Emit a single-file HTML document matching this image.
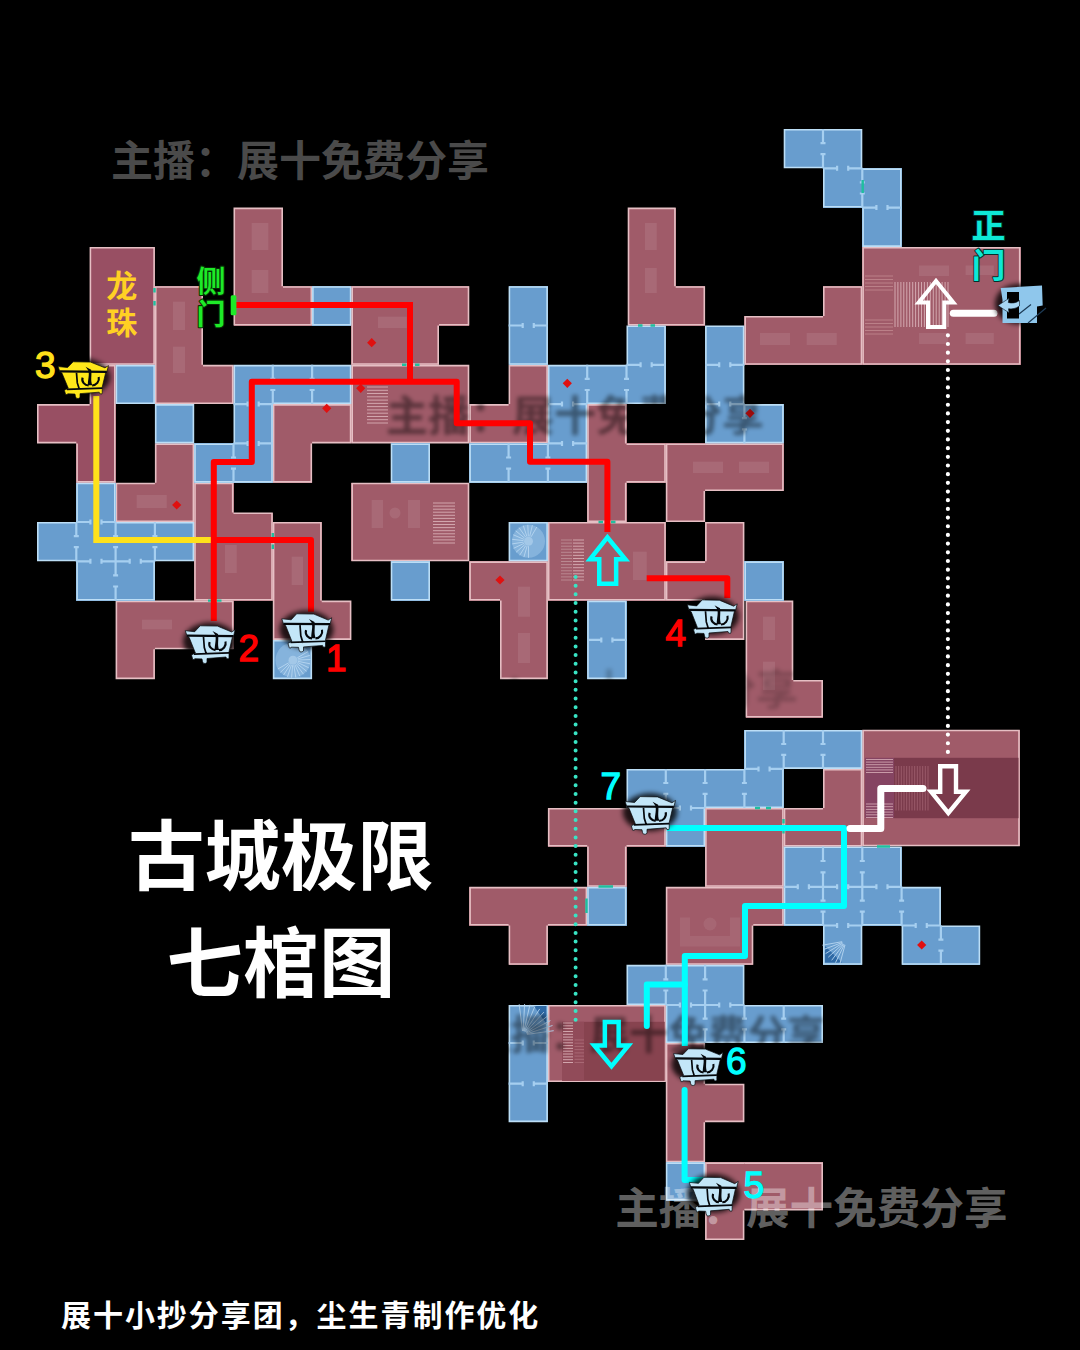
<!DOCTYPE html>
<html lang="zh"><head><meta charset="utf-8"><title>古城极限七棺图</title>
<style>html,body{margin:0;padding:0;background:#000;}body{width:1080px;height:1350px;overflow:hidden;}svg{display:block;}text{font-family:"Liberation Sans","Noto Sans CJK SC",sans-serif;font-weight:bold;}</style></head><body>
<svg width="1080" height="1350" viewBox="0 0 1080 1350">
<defs>
<filter id="blur2" x="-20%" y="-20%" width="140%" height="140%"><feGaussianBlur stdDeviation="2.0"/></filter>
<filter id="smoke" x="-30%" y="-30%" width="160%" height="160%"><feGaussianBlur stdDeviation="2.5"/></filter>
</defs>
<rect width="1080" height="1350" fill="#000"/>
<g id="pink-rooms">
<g fill="#a05b69" shape-rendering="crispEdges"><rect x="233.50" y="207.60" width="49.50" height="78.60"/><rect x="233.50" y="286.20" width="78.60" height="39.30"/></g>
<path d="M233.5,208.4H283.0M234.3,207.6V286.2M282.2,207.6V286.2M233.5,324.7H283.0M234.3,286.2V325.5M283.0,287.0H312.1M283.0,324.7H312.1M311.3,286.2V325.5" stroke="#e6bfc4" stroke-width="1.6" fill="none"/>
<g fill="#984f63" shape-rendering="crispEdges"><rect x="89.60" y="246.90" width="65.30" height="117.90"/></g>
<path d="M89.6,247.7H154.9M89.6,364.0H154.9M90.4,246.9V364.8M154.1,246.9V364.8" stroke="#e6bfc4" stroke-width="1.6" fill="none"/>
<g fill="#a05b69" shape-rendering="crispEdges"><rect x="154.90" y="286.20" width="48.10" height="78.60"/><rect x="154.90" y="364.80" width="78.60" height="39.30"/></g>
<path d="M154.9,287.0H203.0M155.7,286.2V364.8M202.2,286.2V364.8M154.9,403.3H203.0M155.7,364.8V404.1M203.0,365.6H233.5M203.0,403.3H233.5M232.7,364.8V404.1" stroke="#e6bfc4" stroke-width="1.6" fill="none"/>
<g fill="#984f63" shape-rendering="crispEdges"><rect x="37.00" y="404.10" width="78.60" height="39.30"/><rect x="89.60" y="364.80" width="26.00" height="39.30"/><rect x="76.30" y="443.40" width="39.30" height="39.30"/></g>
<path d="M37.0,404.9H76.3M37.0,442.6H76.3M37.8,404.1V443.4M76.3,404.9H89.6M76.3,481.9H89.6M77.1,443.4V482.7M89.6,365.6H115.6M90.4,364.8V404.1M114.8,364.8V404.1M114.8,404.1V443.4M89.6,481.9H115.6M114.8,443.4V482.7" stroke="#e6bfc4" stroke-width="1.6" fill="none"/>
<g fill="#a05b69" shape-rendering="crispEdges"><rect x="154.90" y="443.40" width="39.30" height="39.30"/><rect x="115.60" y="482.70" width="78.60" height="39.30"/></g>
<path d="M115.6,483.5H154.9M115.6,521.2H154.9M116.4,482.7V522.0M154.9,444.2H194.2M155.7,443.4V482.7M193.4,443.4V482.7M154.9,521.2H194.2M193.4,482.7V522.0" stroke="#e6bfc4" stroke-width="1.6" fill="none"/>
<g fill="#a05b69" shape-rendering="crispEdges"><rect x="351.40" y="286.20" width="117.90" height="39.30"/><rect x="351.40" y="325.50" width="87.60" height="39.30"/></g>
<path d="M351.4,287.0H439.0M352.2,286.2V325.5M351.4,364.0H439.0M352.2,325.5V364.8M438.2,325.5V364.8M439.0,287.0H469.3M439.0,324.7H469.3M468.5,286.2V325.5" stroke="#e6bfc4" stroke-width="1.6" fill="none"/>
<g fill="#a05b69" shape-rendering="crispEdges"><rect x="351.40" y="364.80" width="117.90" height="78.60"/></g>
<path d="M351.4,365.6H469.3M351.4,442.6H469.3M352.2,364.8V443.4M468.5,364.8V443.4" stroke="#e6bfc4" stroke-width="1.6" fill="none"/>
<g fill="#a05b69" shape-rendering="crispEdges"><rect x="469.30" y="404.10" width="78.60" height="39.30"/><rect x="508.60" y="364.80" width="39.30" height="39.30"/></g>
<path d="M469.3,404.9H508.6M469.3,442.6H508.6M470.1,404.1V443.4M508.6,365.6H547.9M509.4,364.8V404.1M547.1,364.8V404.1M508.6,442.6H547.9M547.1,404.1V443.4" stroke="#e6bfc4" stroke-width="1.6" fill="none"/>
<g fill="#a05b69" shape-rendering="crispEdges"><rect x="272.80" y="404.10" width="78.60" height="39.30"/><rect x="272.80" y="443.40" width="39.30" height="39.30"/></g>
<path d="M272.8,404.9H312.1M273.6,404.1V443.4M272.8,481.9H312.1M273.6,443.4V482.7M311.3,443.4V482.7M312.1,404.9H351.4M312.1,442.6H351.4M350.6,404.1V443.4" stroke="#e6bfc4" stroke-width="1.6" fill="none"/>
<g fill="#a05b69" shape-rendering="crispEdges"><rect x="351.40" y="482.70" width="117.90" height="78.60"/></g>
<path d="M351.4,483.5H469.3M351.4,560.5H469.3M352.2,482.7V561.3M468.5,482.7V561.3" stroke="#e6bfc4" stroke-width="1.6" fill="none"/>
<g fill="#a05b69" shape-rendering="crispEdges"><rect x="194.20" y="482.70" width="39.30" height="117.90"/><rect x="233.50" y="512.50" width="39.30" height="88.10"/></g>
<path d="M194.2,483.5H233.5M195.0,482.7V512.5M232.7,482.7V512.5M194.2,599.8H233.5M195.0,512.5V600.6M233.5,513.3H272.8M233.5,599.8H272.8M272.0,512.5V600.6" stroke="#e6bfc4" stroke-width="1.6" fill="none"/>
<g fill="#a05b69" shape-rendering="crispEdges"><rect x="272.80" y="522.00" width="48.90" height="117.90"/><rect x="321.70" y="600.60" width="29.70" height="39.30"/></g>
<path d="M272.8,522.8H321.7M273.6,522.0V600.6M320.9,522.0V600.6M272.8,639.1H321.7M273.6,600.6V639.9M321.7,601.4H351.4M321.7,639.1H351.4M350.6,600.6V639.9" stroke="#e6bfc4" stroke-width="1.6" fill="none"/>
<g fill="#a05b69" shape-rendering="crispEdges"><rect x="115.60" y="600.60" width="117.90" height="48.70"/><rect x="115.60" y="639.90" width="39.30" height="39.30"/></g>
<path d="M115.6,601.4H154.9M116.4,600.6V639.9M116.4,639.9V649.3M115.6,678.4H154.9M116.4,649.3V679.2M154.1,649.3V679.2M154.9,601.4H233.5M232.7,600.6V639.9M154.9,648.5H233.5M232.7,639.9V649.3" stroke="#e6bfc4" stroke-width="1.6" fill="none"/>
<g fill="#a05b69" shape-rendering="crispEdges"><rect x="627.70" y="207.60" width="48.00" height="117.90"/><rect x="627.70" y="286.20" width="77.40" height="39.30"/></g>
<path d="M627.7,208.4H675.7M628.5,207.6V286.2M674.9,207.6V286.2M627.7,324.7H675.7M628.5,286.2V325.5M675.7,287.0H705.1M675.7,324.7H705.1M704.3,286.2V325.5" stroke="#e6bfc4" stroke-width="1.6" fill="none"/>
<g fill="#a05b69" shape-rendering="crispEdges"><rect x="587.20" y="404.10" width="39.30" height="117.90"/><rect x="587.20" y="443.40" width="78.60" height="39.30"/></g>
<path d="M587.2,404.9H626.5M588.0,404.1V443.4M625.7,404.1V443.4M588.0,443.4V482.7M587.2,521.2H626.5M588.0,482.7V522.0M625.7,482.7V522.0M626.5,444.2H665.8M626.5,481.9H665.8M665.0,443.4V482.7" stroke="#e6bfc4" stroke-width="1.6" fill="none"/>
<g fill="#a05b69" shape-rendering="crispEdges"><rect x="665.80" y="443.40" width="117.90" height="47.60"/><rect x="665.80" y="491.00" width="39.30" height="31.00"/></g>
<path d="M665.8,444.2H705.1M666.6,443.4V491.0M665.8,521.2H705.1M666.6,491.0V522.0M704.3,491.0V522.0M705.1,444.2H783.7M705.1,490.2H783.7M782.9,443.4V491.0" stroke="#e6bfc4" stroke-width="1.6" fill="none"/>
<g fill="#a05b69" shape-rendering="crispEdges"><rect x="547.90" y="522.00" width="117.90" height="78.60"/></g>
<path d="M547.9,522.8H665.8M547.9,599.8H665.8M548.7,522.0V600.6M665.0,522.0V600.6" stroke="#e6bfc4" stroke-width="1.6" fill="none"/>
<g fill="#a05b69" shape-rendering="crispEdges"><rect x="469.30" y="561.30" width="78.60" height="39.30"/><rect x="500.00" y="600.60" width="47.90" height="78.60"/></g>
<path d="M469.3,562.1H500.0M469.3,599.8H500.0M470.1,561.3V600.6M500.0,562.1H547.9M547.1,561.3V600.6M500.0,678.4H547.9M500.8,600.6V679.2M547.1,600.6V679.2" stroke="#e6bfc4" stroke-width="1.6" fill="none"/>
<g fill="#a05b69" shape-rendering="crispEdges"><rect x="705.10" y="522.00" width="39.30" height="117.90"/><rect x="665.80" y="561.30" width="39.30" height="39.30"/></g>
<path d="M665.8,562.1H705.1M665.8,599.8H705.1M666.6,561.3V600.6M705.1,522.8H744.4M705.9,522.0V561.3M743.6,522.0V561.3M743.6,561.3V600.6M705.1,639.1H744.4M705.9,600.6V639.9M743.6,600.6V639.9" stroke="#e6bfc4" stroke-width="1.6" fill="none"/>
<g fill="#a05b69" shape-rendering="crispEdges"><rect x="745.60" y="600.60" width="47.70" height="116.90"/><rect x="793.00" y="680.00" width="30.00" height="37.50"/></g>
<path d="M745.6,601.4H793.0M746.4,600.6V680.0M745.6,716.7H793.0M746.4,680.0V717.5M793.0,601.4H793.3M792.5,600.6V680.0M793.0,716.7H793.3M793.3,680.8H823.0M793.3,716.7H823.0M822.2,680.0V717.5" stroke="#e6bfc4" stroke-width="1.6" fill="none"/>
<g fill="#a05b69" shape-rendering="crispEdges"><rect x="744.40" y="316.00" width="117.90" height="48.80"/><rect x="823.00" y="286.20" width="39.30" height="78.60"/></g>
<path d="M744.4,316.8H823.0M744.4,364.0H823.0M745.2,316.0V364.8M823.0,287.0H862.3M823.8,286.2V316.0M861.5,286.2V316.0M823.0,364.0H862.3M861.5,316.0V364.8" stroke="#e6bfc4" stroke-width="1.6" fill="none"/>
<g fill="#a05b69" shape-rendering="crispEdges"><rect x="862.30" y="246.90" width="158.20" height="117.90"/></g>
<path d="M862.3,247.7H1020.5M862.3,364.0H1020.5M863.1,246.9V364.8M1019.7,246.9V364.8" stroke="#e6bfc4" stroke-width="1.6" fill="none"/>
<g fill="#a05b69" shape-rendering="crispEdges"><rect x="862.30" y="729.70" width="157.50" height="116.60"/></g>
<path d="M862.3,730.5H1019.8M862.3,845.5H1019.8M863.1,729.7V846.3M1019.0,729.7V846.3" stroke="#e6bfc4" stroke-width="1.6" fill="none"/>
<g fill="#a05b69" shape-rendering="crispEdges"><rect x="823.00" y="768.90" width="39.30" height="39.10"/><rect x="783.70" y="808.00" width="78.60" height="38.50"/></g>
<path d="M783.7,808.8H823.0M783.7,845.7H823.0M784.5,808.0V846.5M823.0,769.7H862.3M823.8,768.9V808.0M861.5,768.9V808.0M823.0,845.7H862.3M861.5,808.0V846.5" stroke="#e6bfc4" stroke-width="1.6" fill="none"/>
<g fill="#a05b69" shape-rendering="crispEdges"><rect x="547.90" y="808.00" width="117.90" height="38.50"/><rect x="587.20" y="846.50" width="39.30" height="40.30"/></g>
<path d="M547.9,808.8H587.2M547.9,845.7H587.2M548.7,808.0V846.5M587.2,808.8H626.5M587.2,886.0H626.5M588.0,846.5V886.8M625.7,846.5V886.8M626.5,808.8H665.8M626.5,845.7H665.8M665.0,808.0V846.5" stroke="#e6bfc4" stroke-width="1.6" fill="none"/>
<g fill="#a05b69" shape-rendering="crispEdges"><rect x="705.10" y="808.00" width="78.60" height="78.80"/></g>
<path d="M705.1,808.8H783.7M705.1,886.0H783.7M705.9,808.0V886.8M782.9,808.0V886.8" stroke="#e6bfc4" stroke-width="1.6" fill="none"/>
<g fill="#a05b69" shape-rendering="crispEdges"><rect x="665.80" y="886.80" width="117.90" height="38.70"/><rect x="665.80" y="925.50" width="87.50" height="39.30"/></g>
<path d="M665.8,887.6H753.3M666.6,886.8V925.5M665.8,964.0H753.3M666.6,925.5V964.8M752.5,925.5V964.8M753.3,887.6H783.7M753.3,924.7H783.7M782.9,886.8V925.5" stroke="#e6bfc4" stroke-width="1.6" fill="none"/>
<g fill="#a05b69" shape-rendering="crispEdges"><rect x="469.30" y="886.80" width="117.90" height="38.70"/><rect x="508.60" y="925.50" width="39.30" height="39.30"/></g>
<path d="M469.3,887.6H508.6M469.3,924.7H508.6M470.1,886.8V925.5M508.6,887.6H547.9M508.6,964.0H547.9M509.4,925.5V964.8M547.1,925.5V964.8M547.9,887.6H587.2M547.9,924.7H587.2M586.4,886.8V925.5" stroke="#e6bfc4" stroke-width="1.6" fill="none"/>
<g fill="#a05b69" shape-rendering="crispEdges"><rect x="547.90" y="1005.00" width="117.90" height="77.00"/></g>
<path d="M547.9,1005.8H665.8M547.9,1081.2H665.8M548.7,1005.0V1082.0M665.0,1005.0V1082.0" stroke="#e6bfc4" stroke-width="1.6" fill="none"/>
<g fill="#a05b69" shape-rendering="crispEdges"><rect x="665.80" y="1043.00" width="39.30" height="119.30"/><rect x="705.10" y="1083.70" width="39.30" height="38.50"/></g>
<path d="M665.8,1043.8H705.1M666.6,1043.0V1083.7M704.3,1043.0V1083.7M666.6,1083.7V1122.2M665.8,1161.5H705.1M666.6,1122.2V1162.3M704.3,1122.2V1162.3M705.1,1084.5H744.4M705.1,1121.4H744.4M743.6,1083.7V1122.2" stroke="#e6bfc4" stroke-width="1.6" fill="none"/>
<g fill="#a05b69" shape-rendering="crispEdges"><rect x="705.10" y="1162.30" width="117.90" height="48.10"/><rect x="705.10" y="1200.50" width="39.30" height="39.50"/></g>
<path d="M705.1,1163.1H744.4M705.9,1162.3V1200.5M705.9,1200.5V1210.4M705.1,1239.2H744.4M705.9,1210.4V1240.0M743.6,1210.4V1240.0M744.4,1163.1H823.0M822.2,1162.3V1200.5M744.4,1209.6H823.0M822.2,1200.5V1210.4" stroke="#e6bfc4" stroke-width="1.6" fill="none"/>
</g>
<g id="blue-rooms">
<g fill="#689dce" shape-rendering="crispEdges"><rect x="37.00" y="522.00" width="39.30" height="39.30"/><rect x="76.30" y="482.70" width="39.30" height="39.30"/><rect x="76.30" y="522.00" width="39.30" height="39.30"/><rect x="76.30" y="561.30" width="39.30" height="39.30"/><rect x="115.60" y="364.80" width="39.30" height="39.30"/><rect x="115.60" y="522.00" width="39.30" height="39.30"/><rect x="115.60" y="561.30" width="39.30" height="39.30"/><rect x="154.90" y="404.10" width="39.30" height="39.30"/><rect x="154.90" y="522.00" width="39.30" height="39.30"/><rect x="194.20" y="443.40" width="39.30" height="39.30"/><rect x="233.50" y="364.80" width="39.30" height="39.30"/><rect x="233.50" y="404.10" width="39.30" height="39.30"/><rect x="233.50" y="443.40" width="39.30" height="39.30"/><rect x="272.80" y="364.80" width="39.30" height="39.30"/><rect x="272.80" y="639.90" width="39.30" height="39.30"/><rect x="312.10" y="286.20" width="39.30" height="39.30"/><rect x="312.10" y="364.80" width="39.30" height="39.30"/><rect x="390.70" y="443.40" width="39.30" height="39.30"/><rect x="390.70" y="561.30" width="39.30" height="39.30"/><rect x="469.30" y="443.40" width="39.30" height="39.30"/><rect x="508.60" y="286.20" width="39.30" height="39.30"/><rect x="508.60" y="325.50" width="39.30" height="39.30"/><rect x="508.60" y="443.40" width="39.30" height="39.30"/><rect x="508.60" y="522.00" width="39.30" height="39.30"/><rect x="547.90" y="364.80" width="39.30" height="39.30"/><rect x="547.90" y="404.10" width="39.30" height="39.30"/><rect x="547.90" y="443.40" width="39.30" height="39.30"/><rect x="587.20" y="364.80" width="39.30" height="39.30"/><rect x="587.20" y="600.60" width="39.30" height="39.30"/><rect x="587.20" y="639.90" width="39.30" height="39.30"/><rect x="626.50" y="325.50" width="39.30" height="39.30"/><rect x="626.50" y="364.80" width="39.30" height="39.30"/><rect x="705.10" y="325.50" width="39.30" height="39.30"/><rect x="705.10" y="364.80" width="39.30" height="39.30"/><rect x="705.10" y="404.10" width="39.30" height="39.30"/><rect x="744.40" y="404.10" width="39.30" height="39.30"/><rect x="744.40" y="561.30" width="39.30" height="39.30"/><rect x="783.70" y="129.00" width="39.30" height="39.30"/><rect x="823.00" y="129.00" width="39.30" height="39.30"/><rect x="823.00" y="168.30" width="39.30" height="39.30"/><rect x="862.30" y="168.30" width="39.30" height="39.30"/><rect x="862.30" y="207.60" width="39.30" height="39.30"/></g>
<path d="M37.0,522.8H76.3M37.0,560.5H76.3M37.8,522.0V561.3M76.3,483.5H115.6M77.1,482.7V522.0M114.8,482.7V522.0M76.3,599.8H115.6M77.1,561.3V600.6M115.6,365.6H154.9M115.6,403.3H154.9M116.4,364.8V404.1M154.1,364.8V404.1M115.6,522.8H154.9M115.6,599.8H154.9M154.1,561.3V600.6M154.9,404.9H194.2M154.9,442.6H194.2M155.7,404.1V443.4M193.4,404.1V443.4M154.9,522.8H194.2M154.9,560.5H194.2M193.4,522.0V561.3M194.2,444.2H233.5M194.2,481.9H233.5M195.0,443.4V482.7M233.5,365.6H272.8M234.3,364.8V404.1M234.3,404.1V443.4M272.0,404.1V443.4M233.5,481.9H272.8M272.0,443.4V482.7M272.8,365.6H312.1M272.8,403.3H312.1M272.8,640.7H312.1M272.8,678.4H312.1M273.6,639.9V679.2M311.3,639.9V679.2M312.1,287.0H351.4M312.1,324.7H351.4M312.9,286.2V325.5M350.6,286.2V325.5M312.1,365.6H351.4M312.1,403.3H351.4M350.6,364.8V404.1M390.7,444.2H430.0M390.7,481.9H430.0M391.5,443.4V482.7M429.2,443.4V482.7M390.7,562.1H430.0M390.7,599.8H430.0M391.5,561.3V600.6M429.2,561.3V600.6M469.3,444.2H508.6M469.3,481.9H508.6M470.1,443.4V482.7M508.6,287.0H547.9M509.4,286.2V325.5M547.1,286.2V325.5M508.6,364.0H547.9M509.4,325.5V364.8M547.1,325.5V364.8M508.6,444.2H547.9M508.6,481.9H547.9M508.6,522.8H547.9M508.6,560.5H547.9M509.4,522.0V561.3M547.1,522.0V561.3M547.9,365.6H587.2M548.7,364.8V404.1M548.7,404.1V443.4M586.4,404.1V443.4M547.9,481.9H587.2M586.4,443.4V482.7M587.2,365.6H626.5M587.2,403.3H626.5M587.2,601.4H626.5M588.0,600.6V639.9M625.7,600.6V639.9M587.2,678.4H626.5M588.0,639.9V679.2M625.7,639.9V679.2M626.5,326.3H665.8M627.3,325.5V364.8M665.0,325.5V364.8M626.5,403.3H665.8M665.0,364.8V404.1M705.1,326.3H744.4M705.9,325.5V364.8M743.6,325.5V364.8M705.9,364.8V404.1M743.6,364.8V404.1M705.1,442.6H744.4M705.9,404.1V443.4M744.4,404.9H783.7M744.4,442.6H783.7M782.9,404.1V443.4M744.4,562.1H783.7M744.4,599.8H783.7M745.2,561.3V600.6M782.9,561.3V600.6M783.7,129.8H823.0M783.7,167.5H823.0M784.5,129.0V168.3M823.0,129.8H862.3M861.5,129.0V168.3M823.0,206.8H862.3M823.8,168.3V207.6M862.3,169.1H901.6M900.8,168.3V207.6M862.3,246.1H901.6M863.1,207.6V246.9M900.8,207.6V246.9" stroke="#bcdef6" stroke-width="1.6" fill="none"/>
<path d="M76.3,522.0V536.1M76.3,547.2V561.3M73.8,536.1h5M73.8,547.2h5M76.3,522.0H90.4M101.5,522.0H115.6M90.4,519.5v5M101.5,519.5v5M115.6,522.0V536.1M115.6,547.2V561.3M113.1,536.1h5M113.1,547.2h5M76.3,561.3H90.4M101.5,561.3H115.6M90.4,558.8v5M101.5,558.8v5M115.6,561.3V575.4M115.6,586.5V600.6M113.1,575.4h5M113.1,586.5h5M154.9,522.0V536.1M154.9,547.2V561.3M152.4,536.1h5M152.4,547.2h5M115.6,561.3H129.7M140.8,561.3H154.9M129.7,558.8v5M140.8,558.8v5M233.5,443.4V457.5M233.5,468.6V482.7M231.0,457.5h5M231.0,468.6h5M272.8,364.8V378.9M272.8,390.0V404.1M270.3,378.9h5M270.3,390.0h5M233.5,404.1H247.6M258.7,404.1H272.8M247.6,401.6v5M258.7,401.6v5M233.5,443.4H247.6M258.7,443.4H272.8M247.6,440.9v5M258.7,440.9v5M312.1,364.8V378.9M312.1,390.0V404.1M309.6,378.9h5M309.6,390.0h5M508.6,443.4V457.5M508.6,468.6V482.7M506.1,457.5h5M506.1,468.6h5M508.6,325.5H522.7M533.8,325.5H547.9M522.7,323.0v5M533.8,323.0v5M547.9,443.4V457.5M547.9,468.6V482.7M545.4,457.5h5M545.4,468.6h5M587.2,364.8V378.9M587.2,390.0V404.1M584.7,378.9h5M584.7,390.0h5M547.9,404.1H562.0M573.1,404.1H587.2M562.0,401.6v5M573.1,401.6v5M547.9,443.4H562.0M573.1,443.4H587.2M562.0,440.9v5M573.1,440.9v5M626.5,364.8V378.9M626.5,390.0V404.1M624.0,378.9h5M624.0,390.0h5M587.2,639.9H601.3M612.4,639.9H626.5M601.3,637.4v5M612.4,637.4v5M626.5,364.8H640.6M651.7,364.8H665.8M640.6,362.3v5M651.7,362.3v5M705.1,364.8H719.2M730.3,364.8H744.4M719.2,362.3v5M730.3,362.3v5M705.1,404.1H719.2M730.3,404.1H744.4M719.2,401.6v5M730.3,401.6v5M744.4,404.1V418.2M744.4,429.3V443.4M741.9,418.2h5M741.9,429.3h5M823.0,129.0V143.1M823.0,154.2V168.3M820.5,143.1h5M820.5,154.2h5M823.0,168.3H837.1M848.2,168.3H862.3M837.1,165.8v5M848.2,165.8v5M862.3,168.3V182.4M862.3,193.5V207.6M859.8,182.4h5M859.8,193.5h5M862.3,207.6H876.4M887.5,207.6H901.6M876.4,205.1v5M887.5,205.1v5" stroke="#a6cff0" stroke-width="2.2" fill="none"/>
<g fill="#689dce" shape-rendering="crispEdges"><rect x="508.60" y="1005.00" width="39.30" height="38.00"/><rect x="508.60" y="1043.00" width="39.30" height="40.70"/><rect x="508.60" y="1083.70" width="39.30" height="38.50"/><rect x="587.20" y="886.80" width="39.30" height="38.70"/><rect x="626.50" y="768.90" width="39.30" height="39.10"/><rect x="626.50" y="964.80" width="39.30" height="40.20"/><rect x="665.80" y="768.90" width="39.30" height="39.10"/><rect x="665.80" y="808.00" width="39.30" height="38.50"/><rect x="665.80" y="964.80" width="39.30" height="40.20"/><rect x="665.80" y="1005.00" width="39.30" height="38.00"/><rect x="665.80" y="1162.30" width="39.30" height="38.20"/><rect x="705.10" y="768.90" width="39.30" height="39.10"/><rect x="705.10" y="964.80" width="39.30" height="40.20"/><rect x="705.10" y="1005.00" width="39.30" height="38.00"/><rect x="744.40" y="730.00" width="39.30" height="38.90"/><rect x="744.40" y="768.90" width="39.30" height="39.10"/><rect x="744.40" y="1005.00" width="39.30" height="38.00"/><rect x="783.70" y="730.00" width="39.30" height="38.90"/><rect x="783.70" y="846.50" width="39.30" height="40.30"/><rect x="783.70" y="886.80" width="39.30" height="38.70"/><rect x="783.70" y="1005.00" width="39.30" height="38.00"/><rect x="823.00" y="730.00" width="39.30" height="38.90"/><rect x="823.00" y="846.50" width="39.30" height="40.30"/><rect x="823.00" y="886.80" width="39.30" height="38.70"/><rect x="823.00" y="925.50" width="39.30" height="39.30"/><rect x="862.30" y="846.50" width="39.30" height="40.30"/><rect x="862.30" y="886.80" width="39.30" height="38.70"/><rect x="901.60" y="886.80" width="39.30" height="38.70"/><rect x="901.60" y="925.50" width="39.30" height="39.30"/><rect x="940.90" y="925.50" width="39.30" height="39.30"/></g>
<path d="M508.6,1005.8H547.9M509.4,1005.0V1043.0M547.1,1005.0V1043.0M509.4,1043.0V1083.7M547.1,1043.0V1083.7M508.6,1121.4H547.9M509.4,1083.7V1122.2M547.1,1083.7V1122.2M587.2,887.6H626.5M587.2,924.7H626.5M588.0,886.8V925.5M625.7,886.8V925.5M626.5,769.7H665.8M626.5,807.2H665.8M627.3,768.9V808.0M626.5,965.6H665.8M626.5,1004.2H665.8M627.3,964.8V1005.0M665.8,769.7H705.1M665.8,845.7H705.1M666.6,808.0V846.5M704.3,808.0V846.5M665.8,965.6H705.1M665.8,1042.2H705.1M666.6,1005.0V1043.0M665.8,1163.1H705.1M665.8,1199.7H705.1M666.6,1162.3V1200.5M704.3,1162.3V1200.5M705.1,769.7H744.4M705.1,807.2H744.4M705.1,965.6H744.4M743.6,964.8V1005.0M705.1,1042.2H744.4M744.4,730.8H783.7M745.2,730.0V768.9M744.4,807.2H783.7M782.9,768.9V808.0M744.4,1005.8H783.7M744.4,1042.2H783.7M783.7,730.8H823.0M783.7,768.1H823.0M783.7,847.3H823.0M784.5,846.5V886.8M783.7,924.7H823.0M784.5,886.8V925.5M783.7,1005.8H823.0M783.7,1042.2H823.0M822.2,1005.0V1043.0M823.0,730.8H862.3M823.0,768.1H862.3M861.5,730.0V768.9M823.0,847.3H862.3M823.0,964.0H862.3M823.8,925.5V964.8M861.5,925.5V964.8M862.3,847.3H901.6M900.8,846.5V886.8M862.3,924.7H901.6M901.6,887.6H940.9M940.1,886.8V925.5M901.6,964.0H940.9M902.4,925.5V964.8M940.9,926.3H980.2M940.9,964.0H980.2M979.4,925.5V964.8" stroke="#bcdef6" stroke-width="1.6" fill="none"/>
<path d="M508.6,1043.0H522.7M533.8,1043.0H547.9M522.7,1040.5v5M533.8,1040.5v5M508.6,1083.7H522.7M533.8,1083.7H547.9M522.7,1081.2v5M533.8,1081.2v5M665.8,768.9V783.0M665.8,793.9V808.0M663.3,783.0h5M663.3,793.9h5M665.8,964.8V979.3M665.8,990.5V1005.0M663.3,979.3h5M663.3,990.5h5M705.1,768.9V783.0M705.1,793.9V808.0M702.6,783.0h5M702.6,793.9h5M665.8,808.0H679.9M691.0,808.0H705.1M679.9,805.5v5M691.0,805.5v5M705.1,964.8V979.3M705.1,990.5V1005.0M702.6,979.3h5M702.6,990.5h5M665.8,1005.0H679.9M691.0,1005.0H705.1M679.9,1002.5v5M691.0,1002.5v5M705.1,1005.0V1018.7M705.1,1029.3V1043.0M702.6,1018.7h5M702.6,1029.3h5M744.4,768.9V783.0M744.4,793.9V808.0M741.9,783.0h5M741.9,793.9h5M705.1,1005.0H719.2M730.3,1005.0H744.4M719.2,1002.5v5M730.3,1002.5v5M744.4,1005.0V1018.7M744.4,1029.3V1043.0M741.9,1018.7h5M741.9,1029.3h5M783.7,730.0V744.0M783.7,754.9V768.9M781.2,744.0h5M781.2,754.9h5M744.4,768.9H758.5M769.6,768.9H783.7M758.5,766.4v5M769.6,766.4v5M783.7,1005.0V1018.7M783.7,1029.3V1043.0M781.2,1018.7h5M781.2,1029.3h5M823.0,730.0V744.0M823.0,754.9V768.9M820.5,744.0h5M820.5,754.9h5M823.0,846.5V861.0M823.0,872.3V886.8M820.5,861.0h5M820.5,872.3h5M783.7,886.8H797.8M808.9,886.8H823.0M797.8,884.3v5M808.9,884.3v5M823.0,886.8V900.7M823.0,911.6V925.5M820.5,900.7h5M820.5,911.6h5M862.3,846.5V861.0M862.3,872.3V886.8M859.8,861.0h5M859.8,872.3h5M823.0,886.8H837.1M848.2,886.8H862.3M837.1,884.3v5M848.2,884.3v5M862.3,886.8V900.7M862.3,911.6V925.5M859.8,900.7h5M859.8,911.6h5M823.0,925.5H837.1M848.2,925.5H862.3M837.1,923.0v5M848.2,923.0v5M862.3,886.8H876.4M887.5,886.8H901.6M876.4,884.3v5M887.5,884.3v5M901.6,886.8V900.7M901.6,911.6V925.5M899.1,900.7h5M899.1,911.6h5M901.6,925.5H915.7M926.8,925.5H940.9M915.7,923.0v5M926.8,923.0v5M940.9,925.5V939.6M940.9,950.7V964.8M938.4,939.6h5M938.4,950.7h5" stroke="#a6cff0" stroke-width="2.2" fill="none"/>
</g>
<rect x="894" y="757.8" width="124.5" height="60.4" fill="#7a3a4b"/>
<rect x="865" y="757.8" width="29" height="60.4" fill="#854462"/>
<rect x="562" y="1021.8" width="102.7" height="59" fill="#87434f"/><rect x="562" y="1021.8" width="22" height="59" fill="#914b59"/>
<path d="M367.0,387.0H388.0M367.0,390.3H388.0M367.0,393.5H388.0M367.0,396.8H388.0M367.0,400.1H388.0M367.0,403.4H388.0M367.0,406.6H388.0M367.0,409.9H388.0M367.0,413.2H388.0M367.0,416.5H388.0M367.0,419.7H388.0M367.0,423.0H388.0" stroke="#d2a6ad" stroke-width="1" fill="none"/>
<path d="M433.0,503.0H455.0M433.0,506.1H455.0M433.0,509.2H455.0M433.0,512.2H455.0M433.0,515.3H455.0M433.0,518.4H455.0M433.0,521.5H455.0M433.0,524.5H455.0M433.0,527.6H455.0M433.0,530.7H455.0M433.0,533.8H455.0M433.0,536.8H455.0M433.0,539.9H455.0M433.0,543.0H455.0" stroke="#d2a6ad" stroke-width="1" fill="none"/>
<path d="M573.0,540.0H584.0M573.0,543.1H584.0M573.0,546.2H584.0M573.0,549.2H584.0M573.0,552.3H584.0M573.0,555.4H584.0M573.0,558.5H584.0M573.0,561.5H584.0M573.0,564.6H584.0M573.0,567.7H584.0M573.0,570.8H584.0M573.0,573.8H584.0M573.0,576.9H584.0M573.0,580.0H584.0" stroke="#d2a6ad" stroke-width="1" fill="none"/>
<path d="M561.0,540.0H572.0M561.0,543.1H572.0M561.0,546.2H572.0M561.0,549.2H572.0M561.0,552.3H572.0M561.0,555.4H572.0M561.0,558.5H572.0M561.0,561.5H572.0M561.0,564.6H572.0M561.0,567.7H572.0M561.0,570.8H572.0M561.0,573.8H572.0M561.0,576.9H572.0M561.0,580.0H572.0" stroke="#b98890" stroke-width="1" fill="none"/>
<path d="M895.0,282.0V327.0M897.9,282.0V327.0M900.9,282.0V327.0M903.8,282.0V327.0M906.8,282.0V327.0M909.7,282.0V327.0M912.7,282.0V327.0M915.6,282.0V327.0M918.6,282.0V327.0M921.5,282.0V327.0M924.4,282.0V327.0M927.4,282.0V327.0M930.3,282.0V327.0M933.3,282.0V327.0M936.2,282.0V327.0M939.2,282.0V327.0M942.1,282.0V327.0M945.1,282.0V327.0M948.0,282.0V327.0" stroke="#d3a8af" stroke-width="1" fill="none"/>
<path d="M865.0,276.0H893.0M865.0,279.5H893.0M865.0,283.0H893.0M865.0,286.5H893.0M865.0,290.0H893.0" stroke="#bb8088" stroke-width="1" fill="none"/>
<path d="M865.0,320.0H893.0M865.0,323.5H893.0M865.0,327.0H893.0M865.0,330.5H893.0M865.0,334.0H893.0" stroke="#bb8088" stroke-width="1" fill="none"/>
<path d="M563.0,1023.0H573.0M563.0,1025.8H573.0M563.0,1028.6H573.0M563.0,1031.5H573.0M563.0,1034.3H573.0M563.0,1037.1H573.0M563.0,1039.9H573.0M563.0,1042.8H573.0M563.0,1045.6H573.0M563.0,1048.4H573.0M563.0,1051.2H573.0M563.0,1054.0H573.0M563.0,1056.9H573.0M563.0,1059.7H573.0M563.0,1062.5H573.0" stroke="#d2a6ad" stroke-width="1" fill="none"/>
<path d="M574.5,1040.0H584.0M574.5,1043.2H584.0M574.5,1046.4H584.0M574.5,1049.6H584.0M574.5,1052.9H584.0M574.5,1056.1H584.0M574.5,1059.3H584.0M574.5,1062.5H584.0" stroke="#a86874" stroke-width="1" fill="none"/>
<path d="M866.0,759.5H893.0M866.0,762.1H893.0M866.0,764.7H893.0M866.0,767.3H893.0M866.0,769.9H893.0M866.0,772.5H893.0" stroke="#c99aa8" stroke-width="1" fill="none"/>
<path d="M866.0,804.0H893.0M866.0,806.7H893.0M866.0,809.4H893.0M866.0,812.1H893.0M866.0,814.8H893.0M866.0,817.5H893.0" stroke="#c99aa8" stroke-width="1" fill="none"/>
<path d="M896.0,766.0V810.5M898.7,766.0V810.5M901.3,766.0V810.5M904.0,766.0V810.5M906.7,766.0V810.5M909.3,766.0V810.5M912.0,766.0V810.5M914.7,766.0V810.5M917.3,766.0V810.5M920.0,766.0V810.5M922.7,766.0V810.5M925.3,766.0V810.5M928.0,766.0V810.5" stroke="#9a5a6a" stroke-width="1" fill="none"/>
<g fill="#fff" fill-opacity="0.09">
<rect x="251.7" y="223.0" width="16.6" height="27.0"/>
<rect x="251.7" y="270.0" width="16.6" height="23.0"/>
<rect x="173.0" y="301.7" width="12.0" height="28.3"/>
<rect x="173.0" y="346.7" width="12.0" height="26.3"/>
<rect x="136.7" y="495.0" width="30.0" height="13.0"/>
<rect x="225.0" y="545.0" width="11.7" height="28.0"/>
<rect x="291.7" y="556.7" width="11.3" height="28.3"/>
<rect x="378.0" y="316.7" width="28.7" height="11.3"/>
<rect x="371.7" y="500.0" width="11.3" height="28.0"/>
<rect x="408.0" y="500.0" width="12.0" height="28.0"/>
<rect x="645.0" y="223.0" width="11.7" height="27.0"/>
<rect x="645.0" y="268.0" width="11.7" height="25.0"/>
<rect x="919.0" y="265.5" width="30.0" height="10.5"/>
<rect x="965.6" y="265.5" width="28.2" height="9.5"/>
<rect x="919.0" y="333.0" width="29.0" height="11.0"/>
<rect x="965.6" y="333.0" width="28.2" height="11.0"/>
<rect x="760.0" y="333.0" width="30.0" height="12.0"/>
<rect x="806.7" y="333.0" width="30.0" height="12.0"/>
<rect x="693.0" y="461.7" width="30.0" height="11.3"/>
<rect x="739.0" y="461.7" width="30.0" height="11.3"/>
<rect x="518.0" y="586.7" width="12.0" height="30.0"/>
<rect x="518.0" y="633.0" width="12.0" height="30.0"/>
<rect x="763.0" y="616.7" width="12.0" height="23.3"/>
<rect x="763.0" y="661.7" width="12.0" height="28.3"/>
<rect x="633.0" y="551.7" width="13.7" height="28.3"/>
<rect x="142.0" y="619.7" width="30.0" height="9.6"/>
<circle cx="395" cy="513" r="5.5"/>
<path d="M680,917.5h10v18.5h40v-18.5h10v29h-60z" fill-opacity="0.07"/><circle cx="710" cy="924" r="6.5" fill-opacity="0.07"/>
</g>
<path d="M154.5,288.0L154.5,292.5M154.5,301.0L154.5,305.5M208.0,600.6L212.5,600.6M217.0,600.6L221.5,600.6M272.8,533.0L272.8,537.5M272.8,544.5L272.8,549.0M402.0,364.8L406.5,364.8M415.0,364.8L419.5,364.8M638.0,325.5L642.5,325.5M650.5,325.5L655.0,325.5M598.5,522.0L603.0,522.0M611.0,522.0L615.5,522.0M755.0,808.0L760.0,808.0M766.0,808.0L771.0,808.0M783.5,819.0L783.5,823.5M783.5,829.0L783.5,833.5M877.0,846.5L890.0,846.5M598.5,886.5L613.0,886.5M586.5,898.5L586.5,913.0M862.7,180.0L862.7,193.0" stroke="#1fbf9f" stroke-width="2.4" fill="none"/>
<path d="M371.7,338.1l4.6,4.6l-4.6,4.6l-4.6,-4.6z" fill="#e01010"/>
<path d="M567.3,378.7l4.6,4.6l-4.6,4.6l-4.6,-4.6z" fill="#e01010"/>
<path d="M500.0,575.4l4.6,4.6l-4.6,4.6l-4.6,-4.6z" fill="#e01010"/>
<path d="M176.7,500.4l4.6,4.6l-4.6,4.6l-4.6,-4.6z" fill="#e01010"/>
<path d="M326.7,403.7l4.6,4.6l-4.6,4.6l-4.6,-4.6z" fill="#e01010"/>
<path d="M750.0,408.7l4.6,4.6l-4.6,4.6l-4.6,-4.6z" fill="#e01010"/>
<path d="M921.7,940.4l4.6,4.6l-4.6,4.6l-4.6,-4.6z" fill="#e01010"/>
<path d="M360.7,383.7l4.6,4.6l-4.6,4.6l-4.6,-4.6z" fill="#e01010"/>
<circle cx="528.5" cy="541.2" r="16.5" fill="#85b3dc"/>
<path d="M528.5,546.2L528.5,557.8M527.1,546.1L523.9,557.1M525.8,545.5L519.7,555.2M524.8,544.6L516.1,552.2M524.0,543.4L513.6,548.3M523.6,542.1L512.2,543.9M523.5,540.6L512.1,539.3M523.9,539.3L513.3,534.8M524.6,538.1L515.7,530.8M525.7,537.1L519.1,527.7M526.9,536.5L523.3,525.6M528.3,536.3L527.8,524.8M529.7,536.4L532.4,525.2M531.0,536.9L536.8,527.0" stroke="#b7d6f0" stroke-width="0.9" fill="none"/>
<circle cx="528.5" cy="541.2" r="4.5" fill="#a3c8e8"/>
<circle cx="293.0" cy="660.2" r="17.5" fill="#85b3dc"/>
<path d="M297.3,657.8L308.2,651.5M297.8,658.9L309.8,655.4M298.0,660.0L310.5,659.5M297.9,661.3L310.1,663.8M297.5,662.4L308.8,667.8M296.9,663.4L306.6,671.3M296.0,664.2L303.5,674.2M295.0,664.8L299.9,676.3M293.8,665.2L295.8,677.5M292.6,665.2L291.6,677.7M291.4,665.0L287.5,676.8M290.3,664.5L283.6,675.0M289.4,663.7L280.4,672.4M288.7,662.8L277.8,669.0" stroke="#b7d6f0" stroke-width="0.9" fill="none"/>
<circle cx="293.0" cy="660.2" r="4.5" fill="#a3c8e8"/>
<path d="M534,1006H546.5V1024Z" fill="#2f6aa6"/>
<path d="M522.5,1031.0L519.2,1004.2M523.2,1031.0L524.6,1004.0M523.9,1031.1L529.9,1004.8M524.5,1031.3L534.9,1006.4M525.2,1031.6L539.7,1008.9M525.7,1032.0L543.9,1012.1M526.2,1032.6L547.5,1016.1M526.5,1033.1L550.4,1020.6M526.8,1033.8L552.5,1025.5M527.0,1034.4L553.7,1030.7" stroke="#b7d6f0" stroke-width="0.9" fill="none"/>
<path d="M825,946V962.5H842Z" fill="#2f6aa6"/>
<path d="M845.0,944.9L839.8,964.2M844.3,944.6L835.5,962.6M843.6,944.2L831.7,960.3M843.1,943.7L828.3,957.2M842.6,943.1L825.6,953.6M842.3,942.4L823.6,949.5M842.1,941.7L822.4,945.2" stroke="#b7d6f0" stroke-width="0.9" fill="none"/>
<g filter="url(#blur2)" fill="#000" fill-opacity="0.45" font-size="42">
<text x="386" y="431">主播：展十免费分享</text>
<text x="420" y="705" fill-opacity="0.22">主播：展十免费分享</text>
<text x="471.5" y="1048.5" font-size="39.4">主播：展十免费分享</text>
</g>
<text x="111.0" y="175.5" font-size="42" fill="#4a4a4a" >主播：展十免费分享</text>
<text x="615.2" y="1224.0" font-size="43.6" fill="#fff" fill-opacity="0.38">主播：展十免费分享</text>
<path d="M96.3,396V540H215" stroke="#ffe11a" stroke-width="6" fill="none" stroke-linejoin="miter"/>
<path d="M236,305H410V381.7" stroke="#ff0000" stroke-width="6" fill="none" />
<path d="M213.8,621V462H251.8V381.7H456.7V423.3H530V461.7H607.4V532" stroke="#ff0000" stroke-width="6" fill="none" stroke-linejoin="round"/>
<path d="M213.8,540H311V611.7" stroke="#ff0000" stroke-width="6" fill="none" stroke-linejoin="round"/>
<path d="M646.7,578.3H727.3V598" stroke="#ff0000" stroke-width="6" fill="none" stroke-linejoin="round"/>
<path d="M667,828H844V906H745V956H684.8V1046" stroke="#00ffff" stroke-width="6" fill="none" stroke-linejoin="round"/>
<path d="M684.8,984.4H646.8V1026" stroke="#00ffff" stroke-width="6" fill="none" stroke-linejoin="round" stroke-linecap="round"/>
<path d="M684.6,1090V1180H712" stroke="#00ffff" stroke-width="6" fill="none" stroke-linejoin="round" stroke-linecap="round"/>
<path d="M850,828.5H880.8V788.4H923" stroke="#fff" stroke-width="7" fill="none" stroke-linejoin="round" stroke-linecap="round"/>
<path d="M953.3,313.3H994" stroke="#fff" stroke-width="7" fill="none" stroke-linecap="round"/>
<path d="M947.9,335.3V752.5" stroke="#fff" stroke-width="4.2" fill="none" stroke-linecap="round" stroke-dasharray="0 8.68"/>
<path d="M575.6,577V1020.5" stroke="#38e4c4" stroke-width="4" fill="none" stroke-linecap="round" stroke-dasharray="0 8.68"/>
<clipPath id="ac1"><path d="M936.0,277.8L957.5,304.5L946.3,304.5L946.3,329.0L926.0,329.0L926.0,304.5L914.5,304.5Z"/></clipPath>
<path d="M936.0,277.8L957.5,304.5L946.3,304.5L946.3,329.0L926.0,329.0L926.0,304.5L914.5,304.5Z" stroke="#fff" stroke-width="8" fill="none" clip-path="url(#ac1)"/>
<clipPath id="ac2"><path d="M607.4,533.8L630.1,561.4L618.4,561.4L618.4,586.0L597.0,586.0L597.0,561.4L585.4,561.4Z"/></clipPath>
<path d="M607.4,533.8L630.1,561.4L618.4,561.4L618.4,586.0L597.0,586.0L597.0,561.4L585.4,561.4Z" stroke="#00ffff" stroke-width="9.0" fill="none" clip-path="url(#ac2)"/>
<clipPath id="ac3"><path d="M948.3,816.6L970.5,789.5L958.2,789.5L958.2,764.0L938.0,764.0L938.0,789.5L926.5,789.5Z"/></clipPath>
<path d="M948.3,816.6L970.5,789.5L958.2,789.5L958.2,764.0L938.0,764.0L938.0,789.5L926.5,789.5Z" stroke="#fff" stroke-width="8.8" fill="none" clip-path="url(#ac3)"/>
<clipPath id="ac4"><path d="M611.5,1069.8L633.2,1043.2L620.9,1043.2L620.9,1019.7L602.6,1019.7L602.6,1043.2L589.4,1043.2Z"/></clipPath>
<path d="M611.5,1069.8L633.2,1043.2L620.9,1043.2L620.9,1019.7L602.6,1019.7L602.6,1043.2L589.4,1043.2Z" stroke="#00ffff" stroke-width="9.0" fill="none" clip-path="url(#ac4)"/>
<g transform="translate(281.5,613.5) scale(1.000,1.013)">
<ellipse cx="25" cy="16" rx="27" ry="19" fill="#000" fill-opacity="0.8" filter="url(#smoke)"/>
<path d="M0.3,5.2L9.7,6.2L15.2,0.3L32.4,0.6L46.7,6.5L50.2,4.2L48.6,10.4L47.3,12L44,26.2L44,28.8L44,32L43.5,33.4L41.5,33L41,31.5L22,33L22,37L20.5,37.9L18.5,37.9L17.5,36L17,33.4L9.7,33.2L9.5,34L7.8,34L6.5,29.5L10.4,27.5L4.2,12L1.9,10Z" fill="#c3e6f8" stroke="#05080c" stroke-width="0.7" stroke-linejoin="round"/>
<path d="M1.9,10.2L48.6,10.6" stroke="#05080c" stroke-width="2.2" fill="none"/>
<path d="M18.5,11.5L19.3,22L21.5,29M9,28.6L44,27.4" stroke="#05080c" stroke-width="1.7" fill="none"/>
<path d="M27.5,5.5L33,8.5C34,14 32,19 34.2,24.4L29.8,24.4C29.6,19 31.8,13 30,9Z" fill="#05080c"/>
<path d="M24.6,16.5C23,21 27,24.4 30.5,24.6M40.5,16C41.6,20.5 38,24.6 34,24.6" stroke="#05080c" stroke-width="2.1" fill="none"/>
</g>
<g transform="translate(185.0,625.5) scale(1.000,1.000)">
<ellipse cx="25" cy="16" rx="27" ry="19" fill="#000" fill-opacity="0.8" filter="url(#smoke)"/>
<path d="M0.3,5.2L9.7,6.2L15.2,0.3L32.4,0.6L46.7,6.5L50.2,4.2L48.6,10.4L47.3,12L44,26.2L44,28.8L44,32L43.5,33.4L41.5,33L41,31.5L22,33L22,37L20.5,37.9L18.5,37.9L17.5,36L17,33.4L9.7,33.2L9.5,34L7.8,34L6.5,29.5L10.4,27.5L4.2,12L1.9,10Z" fill="#c3e6f8" stroke="#05080c" stroke-width="0.7" stroke-linejoin="round"/>
<path d="M1.9,10.2L48.6,10.6" stroke="#05080c" stroke-width="2.2" fill="none"/>
<path d="M18.5,11.5L19.3,22L21.5,29M9,28.6L44,27.4" stroke="#05080c" stroke-width="1.7" fill="none"/>
<path d="M27.5,5.5L33,8.5C34,14 32,19 34.2,24.4L29.8,24.4C29.6,19 31.8,13 30,9Z" fill="#05080c"/>
<path d="M24.6,16.5C23,21 27,24.4 30.5,24.6M40.5,16C41.6,20.5 38,24.6 34,24.6" stroke="#05080c" stroke-width="2.1" fill="none"/>
</g>
<g transform="translate(57.8,361.5) scale(1.010,0.974)">
<ellipse cx="25" cy="16" rx="27" ry="19" fill="#000" fill-opacity="0.8" filter="url(#smoke)"/>
<path d="M0.3,5.2L9.7,6.2L15.2,0.3L32.4,0.6L46.7,6.5L50.2,4.2L48.6,10.4L47.3,12L44,26.2L44,28.8L44,32L43.5,33.4L41.5,33L41,31.5L22,33L22,37L20.5,37.9L18.5,37.9L17.5,36L17,33.4L9.7,33.2L9.5,34L7.8,34L6.5,29.5L10.4,27.5L4.2,12L1.9,10Z" fill="#ffe81a" stroke="#05080c" stroke-width="0.7" stroke-linejoin="round"/>
<path d="M1.9,10.2L48.6,10.6" stroke="#05080c" stroke-width="2.2" fill="none"/>
<path d="M18.5,11.5L19.3,22L21.5,29M9,28.6L44,27.4" stroke="#05080c" stroke-width="1.7" fill="none"/>
<path d="M27.5,5.5L33,8.5C34,14 32,19 34.2,24.4L29.8,24.4C29.6,19 31.8,13 30,9Z" fill="#05080c"/>
<path d="M24.6,16.5C23,21 27,24.4 30.5,24.6M40.5,16C41.6,20.5 38,24.6 34,24.6" stroke="#05080c" stroke-width="2.1" fill="none"/>
</g>
<g transform="translate(687.0,599.6) scale(1.000,1.013)">
<ellipse cx="25" cy="16" rx="27" ry="19" fill="#000" fill-opacity="0.8" filter="url(#smoke)"/>
<path d="M0.3,5.2L9.7,6.2L15.2,0.3L32.4,0.6L46.7,6.5L50.2,4.2L48.6,10.4L47.3,12L44,26.2L44,28.8L44,32L43.5,33.4L41.5,33L41,31.5L22,33L22,37L20.5,37.9L18.5,37.9L17.5,36L17,33.4L9.7,33.2L9.5,34L7.8,34L6.5,29.5L10.4,27.5L4.2,12L1.9,10Z" fill="#c3e6f8" stroke="#05080c" stroke-width="0.7" stroke-linejoin="round"/>
<path d="M1.9,10.2L48.6,10.6" stroke="#05080c" stroke-width="2.2" fill="none"/>
<path d="M18.5,11.5L19.3,22L21.5,29M9,28.6L44,27.4" stroke="#05080c" stroke-width="1.7" fill="none"/>
<path d="M27.5,5.5L33,8.5C34,14 32,19 34.2,24.4L29.8,24.4C29.6,19 31.8,13 30,9Z" fill="#05080c"/>
<path d="M24.6,16.5C23,21 27,24.4 30.5,24.6M40.5,16C41.6,20.5 38,24.6 34,24.6" stroke="#05080c" stroke-width="2.1" fill="none"/>
</g>
<g transform="translate(689.0,1177.0) scale(0.980,1.026)">
<ellipse cx="25" cy="16" rx="27" ry="19" fill="#000" fill-opacity="0.8" filter="url(#smoke)"/>
<path d="M0.3,5.2L9.7,6.2L15.2,0.3L32.4,0.6L46.7,6.5L50.2,4.2L48.6,10.4L47.3,12L44,26.2L44,28.8L44,32L43.5,33.4L41.5,33L41,31.5L22,33L22,37L20.5,37.9L18.5,37.9L17.5,36L17,33.4L9.7,33.2L9.5,34L7.8,34L6.5,29.5L10.4,27.5L4.2,12L1.9,10Z" fill="#c3e6f8" stroke="#05080c" stroke-width="0.7" stroke-linejoin="round"/>
<path d="M1.9,10.2L48.6,10.6" stroke="#05080c" stroke-width="2.2" fill="none"/>
<path d="M18.5,11.5L19.3,22L21.5,29M9,28.6L44,27.4" stroke="#05080c" stroke-width="1.7" fill="none"/>
<path d="M27.5,5.5L33,8.5C34,14 32,19 34.2,24.4L29.8,24.4C29.6,19 31.8,13 30,9Z" fill="#05080c"/>
<path d="M24.6,16.5C23,21 27,24.4 30.5,24.6M40.5,16C41.6,20.5 38,24.6 34,24.6" stroke="#05080c" stroke-width="2.1" fill="none"/>
</g>
<g transform="translate(673.3,1048.5) scale(0.990,0.974)">
<ellipse cx="25" cy="16" rx="27" ry="19" fill="#000" fill-opacity="0.8" filter="url(#smoke)"/>
<path d="M0.3,5.2L9.7,6.2L15.2,0.3L32.4,0.6L46.7,6.5L50.2,4.2L48.6,10.4L47.3,12L44,26.2L44,28.8L44,32L43.5,33.4L41.5,33L41,31.5L22,33L22,37L20.5,37.9L18.5,37.9L17.5,36L17,33.4L9.7,33.2L9.5,34L7.8,34L6.5,29.5L10.4,27.5L4.2,12L1.9,10Z" fill="#c3e6f8" stroke="#05080c" stroke-width="0.7" stroke-linejoin="round"/>
<path d="M1.9,10.2L48.6,10.6" stroke="#05080c" stroke-width="2.2" fill="none"/>
<path d="M18.5,11.5L19.3,22L21.5,29M9,28.6L44,27.4" stroke="#05080c" stroke-width="1.7" fill="none"/>
<path d="M27.5,5.5L33,8.5C34,14 32,19 34.2,24.4L29.8,24.4C29.6,19 31.8,13 30,9Z" fill="#05080c"/>
<path d="M24.6,16.5C23,21 27,24.4 30.5,24.6M40.5,16C41.6,20.5 38,24.6 34,24.6" stroke="#05080c" stroke-width="2.1" fill="none"/>
</g>
<g transform="translate(624.8,796.3) scale(1.010,1.000)">
<ellipse cx="25" cy="16" rx="27" ry="19" fill="#000" fill-opacity="0.8" filter="url(#smoke)"/>
<path d="M0.3,5.2L9.7,6.2L15.2,0.3L32.4,0.6L46.7,6.5L50.2,4.2L48.6,10.4L47.3,12L44,26.2L44,28.8L44,32L43.5,33.4L41.5,33L41,31.5L22,33L22,37L20.5,37.9L18.5,37.9L17.5,36L17,33.4L9.7,33.2L9.5,34L7.8,34L6.5,29.5L10.4,27.5L4.2,12L1.9,10Z" fill="#c3e6f8" stroke="#05080c" stroke-width="0.7" stroke-linejoin="round"/>
<path d="M1.9,10.2L48.6,10.6" stroke="#05080c" stroke-width="2.2" fill="none"/>
<path d="M18.5,11.5L19.3,22L21.5,29M9,28.6L44,27.4" stroke="#05080c" stroke-width="1.7" fill="none"/>
<path d="M27.5,5.5L33,8.5C34,14 32,19 34.2,24.4L29.8,24.4C29.6,19 31.8,13 30,9Z" fill="#05080c"/>
<path d="M24.6,16.5C23,21 27,24.4 30.5,24.6M40.5,16C41.6,20.5 38,24.6 34,24.6" stroke="#05080c" stroke-width="2.1" fill="none"/>
</g>
<g>
<ellipse cx="1018" cy="304" rx="23" ry="20" fill="#000" fill-opacity="0.8" filter="url(#smoke)"/>
<path d="M1000.7,288L1042,285.5L1042.7,305.5L1037,306.5L1037,323L1002.5,323L1002.5,300Z" fill="#8fc7ec"/>
<path d="M1019,314L1031,304.5M1028,323L1046,308" stroke="#1c3a55" stroke-width="1.2" fill="none"/>
<rect x="1007" y="292" width="12" height="26.5" fill="#000"/>
<path d="M998,305.5L1009,298.3L1008.3,302.5C1012,303.6 1016,303 1019.5,300.5L1019.5,306C1016,308.5 1012,309.3 1008.5,308.8L1009,312.8Z" fill="#a7d6f3" stroke="#0a1520" stroke-width="0.6"/>
</g>
<rect x="230.7" y="295.2" width="5.7" height="20" rx="1.5" fill="#1eea28"/>
<text x="106.3" y="296.5" font-size="31" fill="#ffd024" >龙</text>
<text x="106.3" y="333.5" font-size="31" fill="#ffd024" >珠</text>
<text x="196.6" y="292.3" font-size="29" fill="#1eea28" stroke="#062a06" stroke-width="2.2" paint-order="stroke" stroke-linejoin="round">侧</text>
<text x="196.6" y="325.0" font-size="29" fill="#1eea28" stroke="#062a06" stroke-width="2.2" paint-order="stroke" stroke-linejoin="round">门</text>
<text x="971.5" y="238.0" font-size="34" fill="#0ee8d6" stroke="#04302c" stroke-width="2" paint-order="stroke" stroke-linejoin="round">正</text>
<text x="971.5" y="277.5" font-size="34" fill="#0ee8d6" stroke="#04302c" stroke-width="2" paint-order="stroke" stroke-linejoin="round">门</text>
<text x="35.0" y="378.0" font-size="37" fill="#ffe11a" style="font-weight:normal" stroke="#ffe11a" stroke-width="1.3">3</text>
<text x="326.0" y="671.0" font-size="37" fill="#ff0000" style="font-weight:normal" stroke="#ff0000" stroke-width="1.3">1</text>
<text x="238.5" y="660.5" font-size="37" fill="#ff0000" style="font-weight:normal" stroke="#ff0000" stroke-width="1.3">2</text>
<text x="665.5" y="645.5" font-size="37" fill="#ff0000" style="font-weight:normal" stroke="#ff0000" stroke-width="1.3">4</text>
<text x="743.5" y="1198.0" font-size="37" fill="#00ffff" style="font-weight:normal" stroke="#00ffff" stroke-width="1.3">5</text>
<text x="726.0" y="1074.0" font-size="37" fill="#00ffff" style="font-weight:normal" stroke="#00ffff" stroke-width="1.3">6</text>
<text x="600.5" y="798.7" font-size="37" fill="#00ffff" style="font-weight:normal" stroke="#00ffff" stroke-width="1.3">7</text>
<text x="128.3" y="884.0" font-size="76.3" fill="#fff" >古城极限</text>
<text x="166.4" y="991.0" font-size="76.3" fill="#fff" >七棺图</text>
<text x="61.0" y="1325.5" font-size="30" fill="#fff" letter-spacing="1.95">展十小抄分享团，尘生青制作优化</text>
</svg></body></html>
